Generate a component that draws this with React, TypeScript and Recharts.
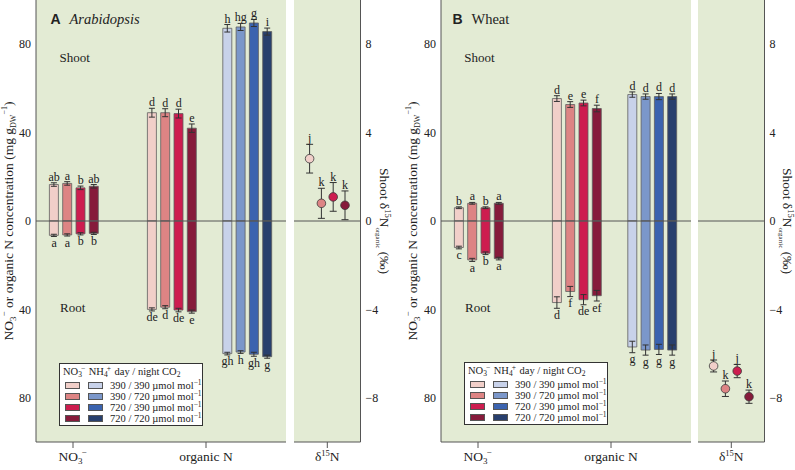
import React from 'react';
import {
  ComposedChart, Bar, Cell, ErrorBar, XAxis, YAxis, CartesianGrid,
  ReferenceLine, Line, LabelList, Scatter,
} from 'recharts';

// ---------------- data ----------------
const categories = ['NO3', 'organic N', 'd15N'];
const co2Treatments = ['390 / 390', '390 / 720', '720 / 390', '720 / 720'];
const nitrateColors = ['#f1cfc9', '#dd8484', '#cd1d4f', '#861b3b'];
const ammoniumColors = ['#c8d2ea', '#7b97ca', '#3b63af', '#283f6d'];

const concTicks = [-80, -40, 0, 40, 80];
const concMinorTicks = [-80, -60, -40, -20, 0, 20, 40, 60, 80];
const deltaTicks = [-8, -4, 0, 4, 8];
const deltaMinorTicks = [-8, -6, -4, -2, 0, 2, 4, 6, 8];

// Panel A – Arabidopsis
const araNitrateShoot = [16.5, 17, 15, 15.7];
const araNitrateShootSE = [0.8, 0.8, 0.8, 0.8];
const araNitrateShootLetters = ['ab', 'a', 'b', 'ab'];
const araNitrateRoot = [6.5, 6.3, 5.8, 5.6];
const araNitrateRootSE = [0.5, 0.5, 0.5, 0.5];
const araNitrateRootLetters = ['a', 'a', 'b', 'b'];

const araOrgNNitrateShoot = [49, 49, 48.6, 42];
const araOrgNNitrateShootSE = [2, 1.8, 2, 1.9];
const araOrgNNitrateShootLetters = ['d', 'd', 'd', 'e'];
const araOrgNNitrateRoot = [40, 39, 40.3, 41];
const araOrgNNitrateRootSE = [0.7, 0.7, 0.8, 0.7];
const araOrgNNitrateRootLetters = ['de', 'd', 'de', 'e'];

const araOrgNAmmoniumShoot = [87.2, 87.8, 89.6, 85.7];
const araOrgNAmmoniumShootSE = [1.7, 1.6, 1.6, 1.6];
const araOrgNAmmoniumShootLetters = ['h', 'hg', 'g', 'i'];
const araOrgNAmmoniumRoot = [60, 59.3, 60.3, 61.4];
const araOrgNAmmoniumRootSE = [0.6, 0.6, 0.9, 0.7];
const araOrgNAmmoniumRootLetters = ['gh', 'h', 'gh', 'g'];

const araDelta = [2.82, 0.8, 1.09, 0.71];
const araDeltaSE = [0.65, 0.68, 0.65, 0.65];
const araDeltaLetters = ['j', 'k', 'k', 'k'];

// Panel B – Wheat
const wheNitrateShoot = [6.0, 8.0, 6.0, 8.0];
const wheNitrateShootSE = [0.4, 0.4, 0.4, 0.4];
const wheNitrateShootLetters = ['b', 'a', 'b', 'a'];
const wheNitrateRoot = [12.0, 17.6, 14.6, 17.0];
const wheNitrateRootSE = [0.6, 0.7, 0.6, 0.6];
const wheNitrateRootLetters = ['c', 'a', 'b', 'a'];

const wheOrgNNitrateShoot = [55.4, 52.7, 53.4, 50.9];
const wheOrgNNitrateShootSE = [1.3, 1.3, 1.3, 1.5];
const wheOrgNNitrateShootLetters = ['d', 'e', 'e', 'f'];
const wheOrgNNitrateRoot = [36.9, 31.9, 35.6, 33.8];
const wheOrgNNitrateRootSE = [2.6, 2.3, 2.3, 2.4];
const wheOrgNNitrateRootLetters = ['d', 'f', 'de', 'ef'];

const wheOrgNAmmoniumShoot = [57.2, 56.3, 56.3, 56.3];
const wheOrgNAmmoniumShootSE = [1.2, 1.2, 1.4, 1.2];
const wheOrgNAmmoniumShootLetters = ['d', 'd', 'd', 'd'];
const wheOrgNAmmoniumRoot = [57.0, 58.4, 58.1, 58.4];
const wheOrgNAmmoniumRootSE = [2.6, 2.3, 2.3, 2.3];
const wheOrgNAmmoniumRootLetters = ['g', 'g', 'g', 'g'];

const wheDelta = [-6.56, -7.59, -6.79, -7.95];
const wheDeltaSE = [0.27, 0.35, 0.3, 0.3];
const wheDeltaLetters = ['j', 'k', 'j', 'k'];

// ---------------- layout / style ----------------
const SERIF = '"Liberation Serif", "Times New Roman", Times, serif';
const SANS = '"Liberation Sans", Arial, sans-serif';
const INK = '#222';
const FRAME = '#555';
const PANEL_BG = '#e3ebd4';

const CHART_H = 470;
const X_AXIS_H = 28;
const Y_AXIS_W = 36;
const BAR_PLOT_W = 250;
const BAR_STEP = 13.3;
const GROUP_CENTERS = [38, 136, 211.4];
const CAT_TICKS = [37, 170];
const DELTA_W = 66.5;
const DELTA_CENTER = 33.3;
const DELTA_STEP = 11.8;
const DELTA_AXIS_W = 34;

type BarRow = {
  x: number; shoot: number; shootSE: number; shootLetter: string;
  root: number; rootSE: number; rootLetter: string;
  shootTip: number; rootTip: number; color: string;
};

function buildGroup(
  center: number, colors: string[],
  shoot: number[], shootSE: number[], shootLetters: string[],
  root: number[], rootSE: number[], rootLetters: string[],
): BarRow[] {
  return shoot.map((s, i) => ({
    x: center + (i - 1.5) * BAR_STEP,
    shoot: s,
    shootSE: shootSE[i],
    shootLetter: shootLetters[i],
    root: -root[i],
    rootSE: rootSE[i],
    rootLetter: rootLetters[i],
    shootTip: s + shootSE[i],
    rootTip: -root[i] - rootSE[i],
    color: colors[i],
  }));
}

function buildDelta(values: number[], se: number[], letters: string[]) {
  return values.map((v, i) => ({
    x: DELTA_CENTER + (i - 1.5) * DELTA_STEP,
    v,
    se: se[i],
    tip: v + se[i],
    letter: letters[i],
    color: nitrateColors[i],
  }));
}

const araRows: BarRow[] = [
  ...buildGroup(GROUP_CENTERS[0], nitrateColors, araNitrateShoot, araNitrateShootSE, araNitrateShootLetters, araNitrateRoot, araNitrateRootSE, araNitrateRootLetters),
  ...buildGroup(GROUP_CENTERS[1], nitrateColors, araOrgNNitrateShoot, araOrgNNitrateShootSE, araOrgNNitrateShootLetters, araOrgNNitrateRoot, araOrgNNitrateRootSE, araOrgNNitrateRootLetters),
  ...buildGroup(GROUP_CENTERS[2], ammoniumColors, araOrgNAmmoniumShoot, araOrgNAmmoniumShootSE, araOrgNAmmoniumShootLetters, araOrgNAmmoniumRoot, araOrgNAmmoniumRootSE, araOrgNAmmoniumRootLetters),
];
const wheRows: BarRow[] = [
  ...buildGroup(GROUP_CENTERS[0], nitrateColors, wheNitrateShoot, wheNitrateShootSE, wheNitrateShootLetters, wheNitrateRoot, wheNitrateRootSE, wheNitrateRootLetters),
  ...buildGroup(GROUP_CENTERS[1], nitrateColors, wheOrgNNitrateShoot, wheOrgNNitrateShootSE, wheOrgNNitrateShootLetters, wheOrgNNitrateRoot, wheOrgNNitrateRootSE, wheOrgNNitrateRootLetters),
  ...buildGroup(GROUP_CENTERS[2], ammoniumColors, wheOrgNAmmoniumShoot, wheOrgNAmmoniumShootSE, wheOrgNAmmoniumShootLetters, wheOrgNAmmoniumRoot, wheOrgNAmmoniumRootSE, wheOrgNAmmoniumRootLetters),
];
const araDeltaRows = buildDelta(araDelta, araDeltaSE, araDeltaLetters);
const wheDeltaRows = buildDelta(wheDelta, wheDeltaSE, wheDeltaLetters);

// ---------------- pieces ----------------
function categoryText(name: string) {
  if (name === 'NO3') {
    return (
      <>
        NO<tspan dy={3} fontSize={9}>3</tspan><tspan dy={-9} dx={-1} fontSize={9}>−</tspan><tspan dy={6}>{'\u200A'}</tspan>
      </>
    );
  }
  if (name === 'd15N') {
    return (
      <>
        δ<tspan dy={-5} fontSize={8.5}>15</tspan><tspan dy={5}>N</tspan>
      </>
    );
  }
  return name;
}

function makeCatTick(names: string[]) {
  return (props: any) => {
    const { x, y, index } = props;
    return (
      <text x={x} y={y + 11} textAnchor="middle" fontFamily={SERIF} fontSize={13.5} fill={INK}>
        {categoryText(names[index] ?? '')}
      </text>
    );
  };
}

const labelStyle = { fontFamily: SERIF, fontSize: 12, fill: INK };

function BarPanel({ rows }: { rows: BarRow[] }) {
  return (
    <ComposedChart
      width={Y_AXIS_W + BAR_PLOT_W}
      height={CHART_H}
      data={rows}
      margin={{ top: 0, right: 0, bottom: 0, left: 0 }}
      stackOffset="sign"
    >
      <CartesianGrid fill={PANEL_BG} stroke="none" horizontal={false} vertical={false} />
      <XAxis
        type="number" dataKey="x" domain={[0, BAR_PLOT_W]} ticks={CAT_TICKS} allowDataOverflow
        height={X_AXIS_H} interval={0} tickSize={6} tickMargin={2}
        axisLine={{ stroke: FRAME }} tickLine={{ stroke: FRAME }}
        tick={makeCatTick([categories[0], categories[1]])}
      />
      <YAxis
        type="number" domain={[-100, 100]} ticks={concTicks} allowDataOverflow interval={0}
        width={Y_AXIS_W} tickLine={false} tickSize={3} tickMargin={2}
        axisLine={{ stroke: FRAME }}
        tickFormatter={(v: number) => String(Math.abs(v))}
        tick={labelStyle}
      />
      <YAxis
        yAxisId="ml" orientation="left" mirror width={0} type="number" domain={[-100, 100]}
        ticks={concMinorTicks} allowDataOverflow interval={0} tick={false} axisLine={false}
        tickSize={6} tickLine={{ stroke: FRAME }}
      />
      <YAxis
        yAxisId="mr" orientation="right" mirror width={0} type="number" domain={[-100, 100]}
        ticks={concMinorTicks} allowDataOverflow interval={0} tick={false}
        axisLine={{ stroke: FRAME }} tickSize={6} tickLine={{ stroke: FRAME }}
      />
      <Bar dataKey="shoot" stackId="s" barSize={9} stroke="#5e5e5e" strokeWidth={0.8} isAnimationActive={false}>
        {rows.map((r, i) => <Cell key={`s${i}`} fill={r.color} />)}
        <ErrorBar dataKey="shootSE" width={3} stroke="#333" strokeWidth={1} direction="y" />
      </Bar>
      <Bar dataKey="root" stackId="s" barSize={9} stroke="#5e5e5e" strokeWidth={0.8} isAnimationActive={false}>
        {rows.map((r, i) => <Cell key={`r${i}`} fill={r.color} />)}
        <ErrorBar dataKey="rootSE" width={3} stroke="#333" strokeWidth={1} direction="y" />
      </Bar>
      <ReferenceLine y={0} stroke={FRAME} strokeWidth={1} />
      <Line dataKey="shootTip" stroke="none" dot={false} activeDot={false} isAnimationActive={false} legendType="none">
        <LabelList dataKey="shootLetter" position="top" offset={2} {...labelStyle} />
      </Line>
      <Line dataKey="rootTip" stroke="none" dot={false} activeDot={false} isAnimationActive={false} legendType="none">
        <LabelList dataKey="rootLetter" position="bottom" offset={2} {...labelStyle} />
      </Line>
    </ComposedChart>
  );
}

function DeltaDot(props: any) {
  const { cx, cy, payload } = props;
  if (cx == null || cy == null) return <g />;
  return <circle cx={cx} cy={cy} r={4.3} fill={payload.color} stroke="#3a3a3a" strokeWidth={0.8} />;
}

function DeltaPanel({ rows }: { rows: any[] }) {
  return (
    <ComposedChart
      width={DELTA_W + DELTA_AXIS_W}
      height={CHART_H}
      data={rows}
      margin={{ top: 0, right: 0, bottom: 0, left: 0 }}
    >
      <CartesianGrid fill={PANEL_BG} stroke="none" horizontal={false} vertical={false} />
      <XAxis
        type="number" dataKey="x" domain={[0, DELTA_W]} ticks={[DELTA_CENTER]} allowDataOverflow
        height={X_AXIS_H} interval={0} tickSize={6} tickMargin={2}
        axisLine={{ stroke: FRAME }} tickLine={{ stroke: FRAME }}
        tick={makeCatTick([categories[2]])}
      />
      <YAxis
        orientation="right" type="number" domain={[-10, 10]} ticks={deltaTicks} allowDataOverflow interval={0}
        width={DELTA_AXIS_W} tickLine={false} tickSize={3} tickMargin={2}
        axisLine={{ stroke: FRAME }}
        tickFormatter={(v: number) => (v < 0 ? `\u2212${Math.abs(v)}` : String(v))}
        tick={labelStyle}
      />
      <YAxis
        yAxisId="ml" orientation="left" mirror width={0} type="number" domain={[-10, 10]}
        ticks={deltaMinorTicks} allowDataOverflow interval={0} tick={false}
        axisLine={{ stroke: FRAME }} tickSize={6} tickLine={{ stroke: FRAME }}
      />
      <YAxis
        yAxisId="mr" orientation="right" mirror width={0} type="number" domain={[-10, 10]}
        ticks={deltaMinorTicks} allowDataOverflow interval={0} tick={false} axisLine={false}
        tickSize={6} tickLine={{ stroke: FRAME }}
      />
      <ReferenceLine y={0} stroke={FRAME} strokeWidth={1} />
      <Scatter dataKey="v" shape={DeltaDot} isAnimationActive={false} legendType="none">
        <ErrorBar dataKey="se" width={3.5} stroke="#333" strokeWidth={1} direction="y" />
      </Scatter>
      <Line dataKey="tip" stroke="none" dot={false} activeDot={false} isAnimationActive={false} legendType="none">
        <LabelList dataKey="letter" position="top" offset={2} {...labelStyle} />
      </Line>
    </ComposedChart>
  );
}

const small: React.CSSProperties = { fontSize: 7.5, position: 'relative' };

function LegendBox({ left, top }: { left: number; top: number }) {
  const rowTops = [15.5, 26.5, 37.5, 48.5];
  return (
    <div
      style={{
        position: 'absolute', left, top, width: 144, height: 63, boxSizing: 'border-box',
        background: '#fff', border: '1px solid #333', fontFamily: SERIF, fontSize: 10.5,
        color: INK, lineHeight: '11px',
      }}
    >
      <div style={{ position: 'absolute', left: 3, top: 2, whiteSpace: 'nowrap' }}>
        NO<span style={{ ...small, top: 2 }}>3</span><span style={{ ...small, top: -4, left: -1 }}>−</span>{' '}
        NH<span style={{ ...small, top: 2 }}>4</span><span style={{ ...small, top: -4, left: -1 }}>+</span>{' '}
        day / night CO<span style={{ ...small, top: 2 }}>2</span>
      </div>
      {co2Treatments.map((t, i) => (
        <React.Fragment key={t}>
          <div style={{ position: 'absolute', left: 5, top: rowTops[i] + 2, width: 15, height: 7, boxSizing: 'border-box', background: nitrateColors[i], border: '1px solid #555' }} />
          <div style={{ position: 'absolute', left: 28, top: rowTops[i] + 2, width: 15, height: 7, boxSizing: 'border-box', background: ammoniumColors[i], border: '1px solid #555' }} />
          <div style={{ position: 'absolute', left: 50, top: rowTops[i], whiteSpace: 'nowrap' }}>
            {t} µmol mol<span style={{ ...small, top: -4 }}>−1</span>
          </div>
        </React.Fragment>
      ))}
    </div>
  );
}

function LeftTitle({ x }: { x: number }) {
  return (
    <text transform={`translate(${x},221) rotate(-90)`} textAnchor="middle" fontFamily={SERIF} fontSize={13.5} fill={INK}>
      NO<tspan dy={3} fontSize={9}>3</tspan><tspan dy={-9} fontSize={9}>−</tspan>
      <tspan dy={6}> or organic N concentration (mg g</tspan>
      <tspan dy={3} fontSize={8}>DW</tspan><tspan dy={-9} fontSize={8}>−1</tspan>
      <tspan dy={6}>)</tspan>
    </text>
  );
}

function RightTitle({ x }: { x: number }) {
  return (
    <text transform={`translate(${x},221) rotate(90)`} textAnchor="middle" fontFamily={SERIF} fontSize={13.5} fill={INK}>
      Shoot δ<tspan dy={-5} fontSize={8.5}>15</tspan><tspan dy={5}>N</tspan>
      <tspan dy={4} fontSize={7}>organic</tspan><tspan dy={-4}> (‰)</tspan>
    </text>
  );
}

export default function App() {
  return (
    <div style={{ position: 'absolute', left: 0, top: 0, width: 795, height: 470, background: '#fff', overflow: 'hidden' }}>
      <div style={{ position: 'absolute', left: 0, top: 0 }}><BarPanel rows={araRows} /></div>
      <div style={{ position: 'absolute', left: 294, top: 0 }}><DeltaPanel rows={araDeltaRows} /></div>
      <div style={{ position: 'absolute', left: 404.6, top: 0 }}><BarPanel rows={wheRows} /></div>
      <div style={{ position: 'absolute', left: 697.8, top: 0 }}><DeltaPanel rows={wheDeltaRows} /></div>

      <LegendBox left={59} top={363} />
      <LegendBox left={464} top={362} />

      <svg width={795} height={470} style={{ position: 'absolute', left: 0, top: 0, pointerEvents: 'none' }}>
        <text x={50.5} y={24} fontFamily={SANS} fontWeight="bold" fontSize={14} fill={INK}>A</text>
        <text x={69.5} y={24} fontFamily={SERIF} fontStyle="italic" fontSize={14.5} fill={INK}>Arabidopsis</text>
        <text x={452.5} y={24} fontFamily={SANS} fontWeight="bold" fontSize={14} fill={INK}>B</text>
        <text x={471.5} y={24} fontFamily={SERIF} fontSize={14.5} fill={INK}>Wheat</text>

        <text x={59.5} y={61.5} fontFamily={SERIF} fontSize={13} fill={INK}>Shoot</text>
        <text x={60} y={311.5} fontFamily={SERIF} fontSize={13} fill={INK}>Root</text>
        <text x={464.3} y={61.5} fontFamily={SERIF} fontSize={13} fill={INK}>Shoot</text>
        <text x={465} y={311.5} fontFamily={SERIF} fontSize={13} fill={INK}>Root</text>

        <LeftTitle x={12.7} />
        <LeftTitle x={417.3} />
        <RightTitle x={380} />
        <RightTitle x={783.3} />
      </svg>
    </div>
  );
}
